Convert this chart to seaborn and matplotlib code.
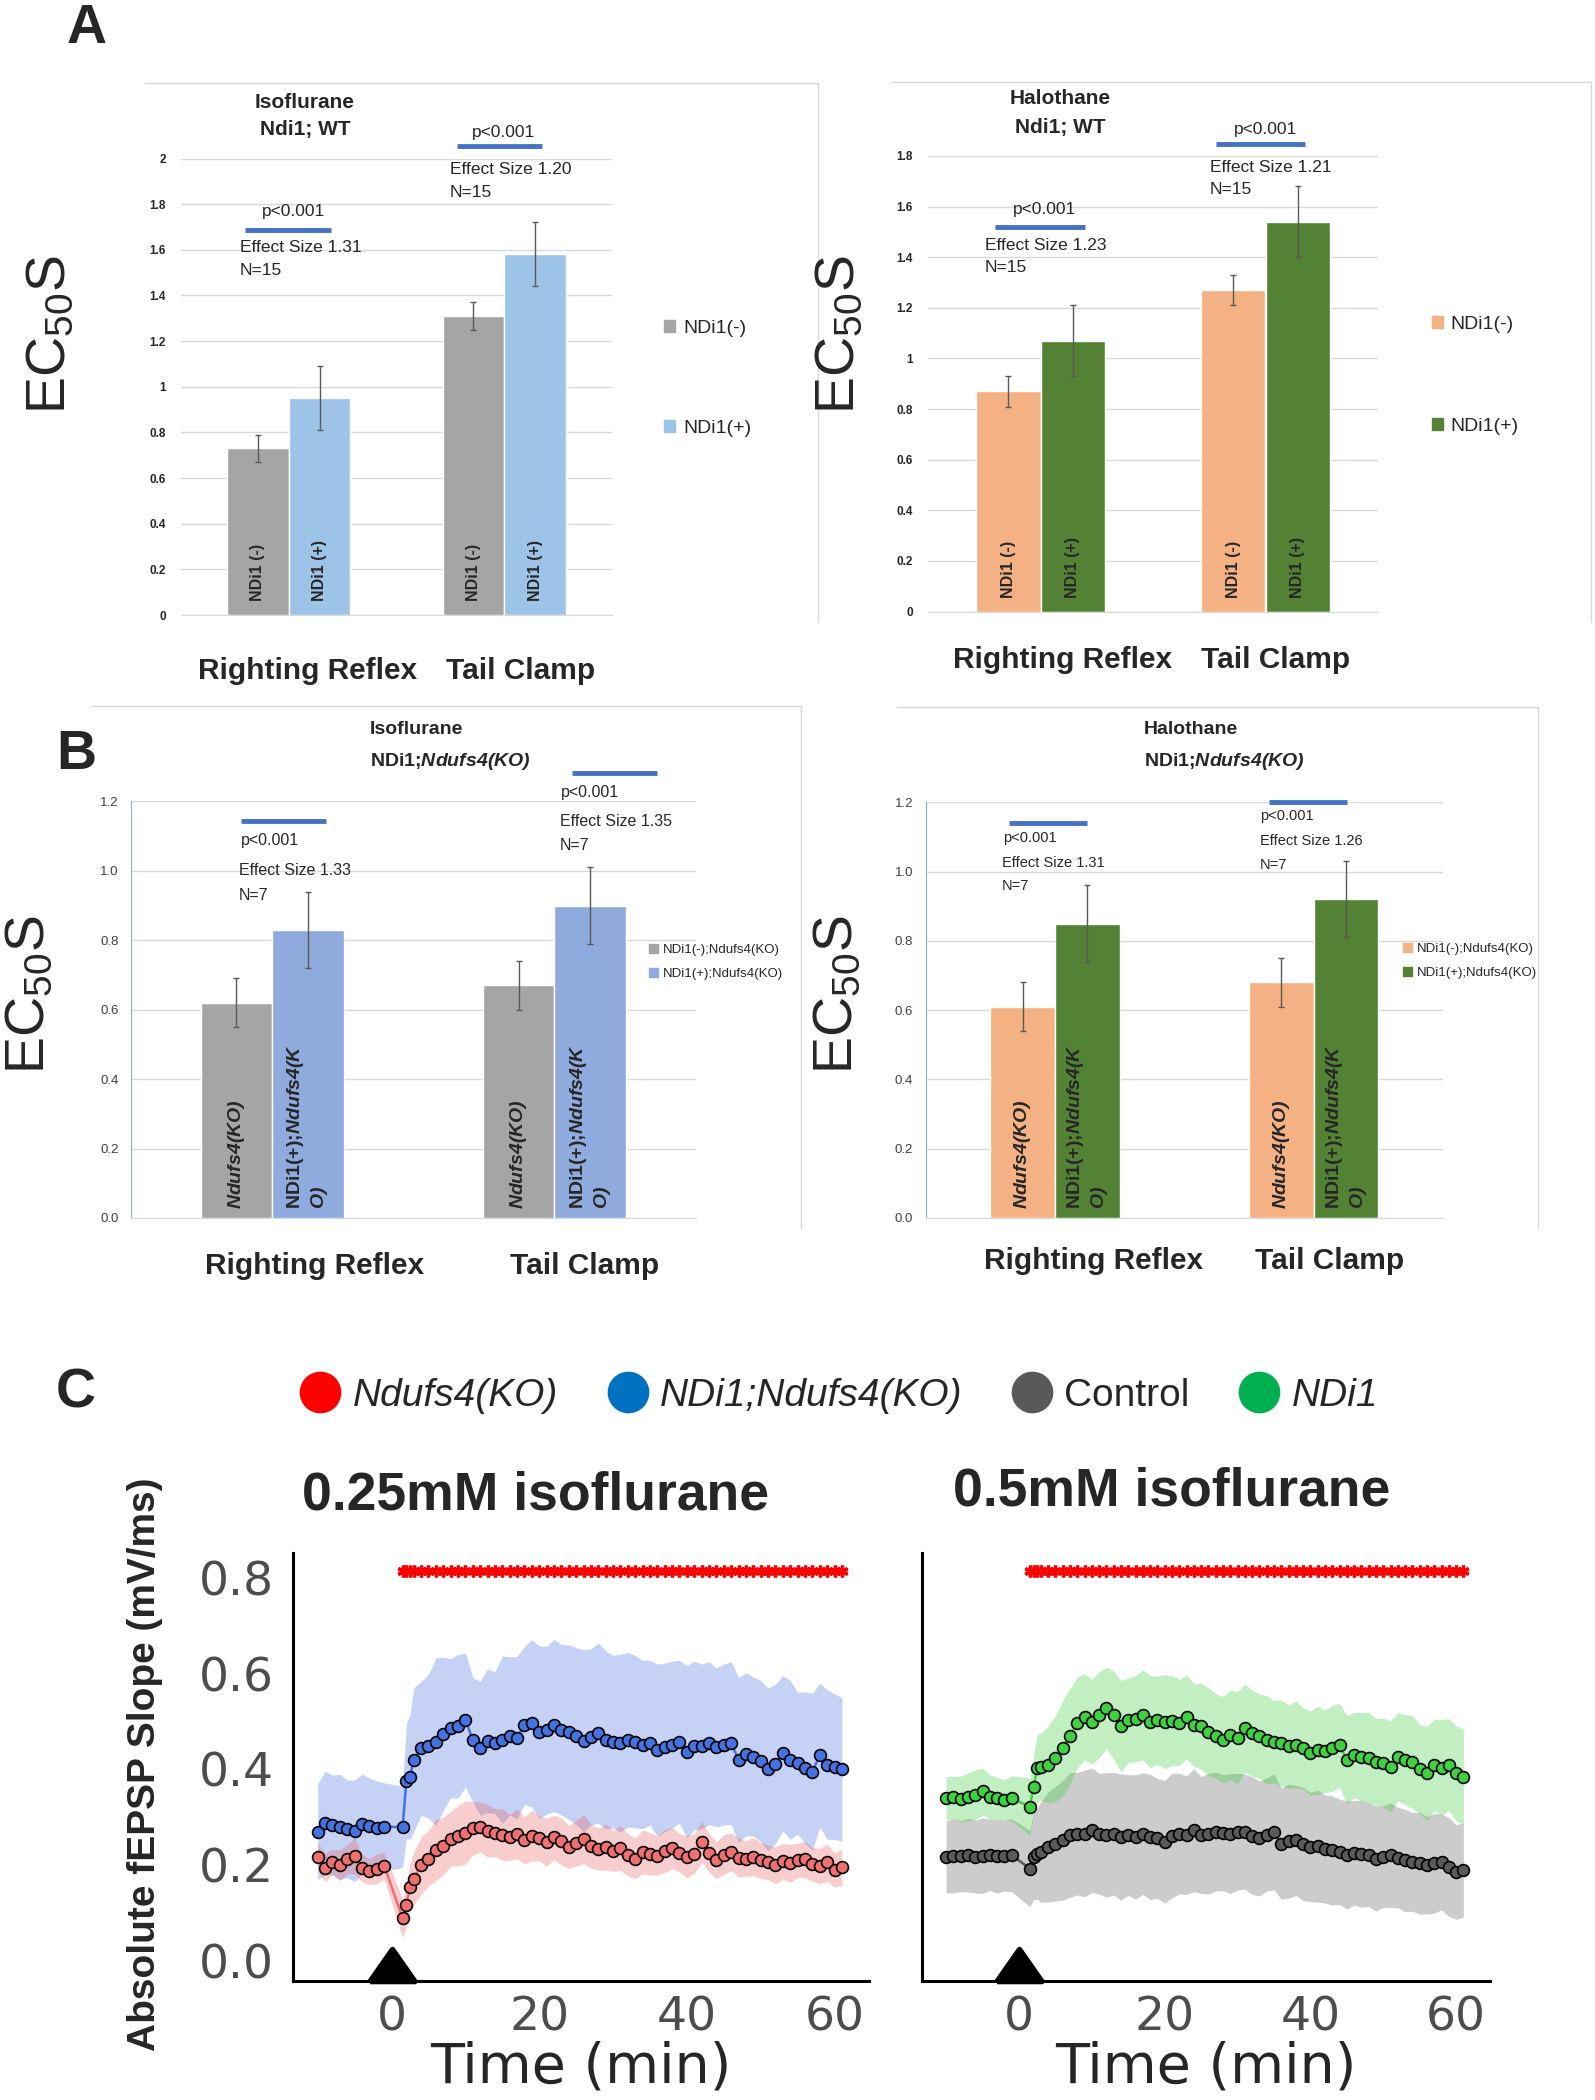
import numpy as np
import pandas as pd
import seaborn as sns
import matplotlib.pyplot as plt
from matplotlib.patches import Patch
from matplotlib.lines import Line2D
from matplotlib.markers import MarkerStyle

# ---- EC50 bar data ----
tests = ['Righting Reflex', 'Tail Clamp']

iso_wt_neg = [0.73, 1.31]
iso_wt_pos = [0.95, 1.58]
iso_wt_neg_err = [0.06, 0.06]
iso_wt_pos_err = [0.14, 0.14]

hal_wt_neg = [0.87, 1.27]
hal_wt_pos = [1.07, 1.54]
hal_wt_neg_err = [0.06, 0.06]
hal_wt_pos_err = [0.14, 0.14]

iso_ko_neg = [0.62, 0.67]
iso_ko_pos = [0.83, 0.90]
iso_ko_neg_err = [0.07, 0.07]
iso_ko_pos_err = [0.11, 0.11]

hal_ko_neg = [0.61, 0.68]
hal_ko_pos = [0.85, 0.92]
hal_ko_neg_err = [0.07, 0.07]
hal_ko_pos_err = [0.11, 0.11]

# ---- fEPSP slope time course ----
time_min = [-10, -9, -8, -7, -6, -5, -4, -3, -2, -1, 1.5, 2, 2.5] + list(range(3, 62))

ko_mean = [0.218, 0.195, 0.207, 0.200, 0.212, 0.220, 0.194, 0.187, 0.192, 0.199,
           0.089, 0.116, 0.155,
           0.172, 0.200, 0.214, 0.232, 0.240, 0.255, 0.262, 0.268, 0.277, 0.280,
           0.272, 0.268, 0.264, 0.258, 0.266, 0.252, 0.262, 0.256, 0.248, 0.258,
           0.250, 0.238, 0.246, 0.254, 0.240, 0.234, 0.238, 0.230, 0.236, 0.222,
           0.214, 0.228, 0.224, 0.220, 0.230, 0.236, 0.226, 0.218, 0.224, 0.249,
           0.226, 0.210, 0.222, 0.228, 0.216, 0.214, 0.218, 0.210, 0.206, 0.200,
           0.208, 0.204, 0.210, 0.212, 0.202, 0.198, 0.206, 0.190, 0.196]
ko_sem = [0.028, 0.030, 0.026, 0.032, 0.030, 0.038, 0.029, 0.027, 0.031, 0.028,
          0.040, 0.045, 0.050,
          0.055, 0.060, 0.058, 0.064, 0.060, 0.057, 0.063, 0.066, 0.056, 0.052,
          0.055, 0.050, 0.054, 0.048, 0.052, 0.049, 0.053, 0.047, 0.050, 0.046,
          0.049, 0.045, 0.048, 0.051, 0.046, 0.044, 0.048, 0.043, 0.047, 0.044,
          0.042, 0.046, 0.044, 0.041, 0.045, 0.043, 0.040, 0.044, 0.041, 0.043,
          0.040, 0.038, 0.042, 0.039, 0.041, 0.037, 0.040, 0.038, 0.036, 0.039,
          0.037, 0.040, 0.036, 0.038, 0.035, 0.037, 0.039, 0.036, 0.038]

ndi_ko_mean = [0.270, 0.288, 0.284, 0.280, 0.276, 0.272, 0.286, 0.282, 0.278, 0.280,
               0.280, 0.376, 0.384,
               0.420, 0.444, 0.448, 0.458, 0.474, 0.486, 0.490, 0.503, 0.462, 0.444,
               0.460, 0.456, 0.462, 0.470, 0.466, 0.492, 0.496, 0.478, 0.482, 0.492,
               0.483, 0.478, 0.470, 0.460, 0.468, 0.476, 0.462, 0.458, 0.455, 0.462,
               0.458, 0.452, 0.456, 0.440, 0.446, 0.452, 0.458, 0.437, 0.450, 0.448,
               0.455, 0.446, 0.452, 0.455, 0.420, 0.432, 0.427, 0.418, 0.400, 0.412,
               0.434, 0.420, 0.413, 0.404, 0.395, 0.430, 0.410, 0.406, 0.400]
ndi_ko_sem = [0.100, 0.108, 0.104, 0.110, 0.102, 0.106, 0.104, 0.100, 0.098, 0.092,
              0.085, 0.120, 0.130,
              0.150, 0.140, 0.150, 0.175, 0.160, 0.145, 0.150, 0.140, 0.130, 0.140,
              0.150, 0.148, 0.175, 0.165, 0.170, 0.165, 0.175, 0.180, 0.175, 0.180,
              0.178, 0.182, 0.185, 0.190, 0.184, 0.188, 0.186, 0.180, 0.186, 0.182,
              0.180, 0.176, 0.172, 0.180, 0.176, 0.174, 0.170, 0.180, 0.176, 0.172,
              0.170, 0.166, 0.168, 0.170, 0.172, 0.170, 0.166, 0.168, 0.170, 0.166,
              0.162, 0.166, 0.148, 0.158, 0.164, 0.150, 0.156, 0.152, 0.150]

ndi_mean = [0.340, 0.342, 0.338, 0.343, 0.347, 0.354, 0.343, 0.340, 0.336, 0.340,
            0.322, 0.364, 0.402,
            0.406, 0.410, 0.423, 0.444, 0.469, 0.498, 0.510, 0.500, 0.514, 0.528,
            0.514, 0.490, 0.503, 0.506, 0.514, 0.500, 0.503, 0.500, 0.502, 0.498,
            0.510, 0.493, 0.490, 0.479, 0.470, 0.462, 0.472, 0.466, 0.486, 0.476,
            0.469, 0.462, 0.458, 0.455, 0.448, 0.452, 0.444, 0.434, 0.440, 0.438,
            0.444, 0.451, 0.420, 0.430, 0.427, 0.424, 0.416, 0.414, 0.406, 0.427,
            0.420, 0.416, 0.400, 0.392, 0.410, 0.404, 0.410, 0.392, 0.385]
ndi_sem = [0.045, 0.044, 0.048, 0.050, 0.052, 0.049, 0.046, 0.044, 0.042, 0.047,
           0.060, 0.065, 0.070,
           0.070, 0.080, 0.090, 0.100, 0.100, 0.095, 0.090, 0.088, 0.090, 0.085,
           0.092, 0.095, 0.088, 0.090, 0.094, 0.096, 0.092, 0.098, 0.094, 0.090,
           0.088, 0.086, 0.090, 0.092, 0.088, 0.090, 0.094, 0.096, 0.092, 0.090,
           0.088, 0.092, 0.086, 0.090, 0.087, 0.091, 0.085, 0.088, 0.092, 0.086,
           0.090, 0.087, 0.093, 0.089, 0.092, 0.095, 0.090, 0.093, 0.096, 0.092,
           0.094, 0.097, 0.093, 0.098, 0.095, 0.100, 0.096, 0.099, 0.100]

ctrl_mean = [0.218, 0.220, 0.219, 0.221, 0.218, 0.220, 0.222, 0.219, 0.220, 0.221,
             0.193, 0.218, 0.224,
             0.228, 0.238, 0.245, 0.252, 0.263, 0.266, 0.266, 0.273, 0.266, 0.263,
             0.266, 0.259, 0.263, 0.259, 0.266, 0.259, 0.256, 0.249, 0.262, 0.266,
             0.263, 0.273, 0.263, 0.266, 0.270, 0.268, 0.266, 0.270, 0.270, 0.262,
             0.256, 0.264, 0.270, 0.245, 0.250, 0.252, 0.244, 0.238, 0.240, 0.234,
             0.231, 0.228, 0.221, 0.226, 0.224, 0.222, 0.214, 0.218, 0.221, 0.216,
             0.210, 0.207, 0.204, 0.200, 0.204, 0.207, 0.196, 0.186, 0.190]
ctrl_sem = [0.075, 0.078, 0.074, 0.077, 0.076, 0.079, 0.075, 0.077, 0.074, 0.076,
            0.080, 0.090, 0.095,
            0.105, 0.115, 0.120, 0.125, 0.130, 0.128, 0.132, 0.130, 0.126, 0.130,
            0.128, 0.132, 0.126, 0.130, 0.127, 0.131, 0.125, 0.128, 0.130, 0.126,
            0.124, 0.128, 0.122, 0.126, 0.124, 0.121, 0.125, 0.122, 0.120, 0.123,
            0.120, 0.118, 0.121, 0.116, 0.119, 0.115, 0.118, 0.114, 0.117, 0.113,
            0.114, 0.110, 0.113, 0.109, 0.112, 0.108, 0.110, 0.106, 0.109, 0.105,
            0.107, 0.103, 0.106, 0.102, 0.104, 0.100, 0.103, 0.099, 0.098]

# time points flagged significant (red asterisks)
sig_times = [t for t in time_min if t > 0]

sns.set_style('white')
plt.rcParams['font.family'] = ['Liberation Sans', 'DejaVu Sans']
plt.rcParams['mathtext.fontset'] = 'custom'
plt.rcParams['mathtext.rm'] = 'Liberation Sans:bold:italic'
plt.rcParams['mathtext.it'] = 'Liberation Sans:bold:italic'
plt.rcParams['mathtext.sf'] = 'Liberation Sans'

W, H = 1595, 2100
fig = plt.figure(figsize=(W / 100, H / 100), dpi=100)


def px_axes(left, top, right, bottom):
    return fig.add_axes([left / W, 1 - bottom / H, (right - left) / W, (bottom - top) / H])


def px_text(x, y, s, **kw):
    return fig.text(x / W, 1 - y / H, s, **kw)


def px_line(x0, y0, x1, y1):
    fig.add_artist(Line2D([x0 / W, x1 / W], [1 - y0 / H, 1 - y1 / H],
                          transform=fig.transFigure, color='#d9d9d9', lw=1))


def bar_panel(ax, neg, pos, neg_err, pos_err, colors, width, labels, inner, inner_y, inner_fs):
    df = pd.DataFrame({'test': tests + tests,
                       'ec50': neg + pos,
                       'group': [labels[0]] * 2 + [labels[1]] * 2})
    sns.barplot(data=df, x='test', y='ec50', hue='group', hue_order=labels, palette=colors,
                width=width, saturation=1, errorbar=None, legend=False, ax=ax, zorder=2)
    errs = [neg_err, pos_err]
    for p in ax.patches:
        xc = p.get_x() + p.get_width() / 2
        cat = int(round(xc))
        h = 0 if xc < cat else 1
        ax.errorbar(xc, p.get_height(), yerr=errs[h][cat], fmt='none', ecolor='#595959',
                    elinewidth=1, capsize=2.5, capthick=1, zorder=3)
        ax.text(xc, inner_y, inner[h], rotation=90, ha='center', va='bottom',
                multialignment='left', fontsize=inner_fs, fontweight='bold', zorder=4)
    ax.set_xlim(-0.5, 1.5)
    ax.set(xlabel='', ylabel='')
    ax.set_axisbelow(True)
    ax.yaxis.grid(True, color='#d9d9d9', lw=1)
    ax.xaxis.grid(False)
    ax.tick_params(axis='x', which='major', length=0, labelbottom=False)
    for s in ['top', 'right']:
        ax.spines[s].set_visible(False)
    ax.spines['bottom'].set_color('#d9d9d9')


def bar_legend(ax, colors, labels, x, y, fs, size, spacing, pad):
    ax.legend(handles=[Patch(color=c) for c in colors], labels=labels, loc='center left',
              bbox_to_anchor=(x / W, 1 - y / H), bbox_transform=fig.transFigure,
              frameon=False, fontsize=fs, handlelength=size, handleheight=size,
              labelspacing=spacing, handletextpad=pad, borderpad=0, borderaxespad=0)


def stats_note(ax, line, p_xy, eff_xy, n_xy, eff, n, fs, p_ha):
    ax.plot(line[:2], [line[2], line[2]], color='#4472c4', lw=3.5,
            solid_capstyle='butt', clip_on=False, zorder=5)
    ax.text(p_xy[0], p_xy[1], 'p<0.001', ha=p_ha, va='center', fontsize=fs)
    ax.text(eff_xy[0], eff_xy[1], eff, ha='left', va='center', fontsize=fs)
    ax.text(n_xy[0], n_xy[1], n, ha='left', va='center', fontsize=fs)


def style_a(ax, ymax):
    ax.spines['left'].set_visible(False)
    ax.set_ylim(0, ymax)
    ax.set_yticks(np.arange(0, ymax + 0.01, 0.2))
    ax.yaxis.set_major_formatter(lambda v, _: f'{v:g}')
    ax.tick_params(axis='y', length=0, pad=11, labelsize=8.5, labelcolor='#262626')
    for t in ax.get_yticklabels():
        t.set_fontweight('bold')
    ax.set_xticks([-0.5, 0.5, 1.5], minor=True)
    ax.tick_params(axis='x', which='minor', length=5, color='#d9d9d9', width=1)


def style_b(ax):
    ax.spines['left'].set_color('#8faadc')
    ax.set_ylim(0, 1.2)
    ax.set_yticks(np.arange(0, 1.21, 0.2))
    ax.yaxis.set_major_formatter(lambda v, _: f'{v:.1f}')
    ax.tick_params(axis='y', length=3, color='#8faadc', pad=6, labelsize=9.5, labelcolor='#404040')


ec50 = r'EC$_{\mathsf{50}}$S'

# ---------------- Panel A ----------------
px_text(87, 29, 'A', fontsize=40, fontweight='bold', ha='center', va='center')
px_line(145, 83, 818, 83)
px_line(818, 83, 818, 622)
px_line(891, 82, 1591, 82)
px_line(1591, 82, 1591, 622)

ax = px_axes(181, 158.5, 612, 615)
cols = ['#a5a5a5', '#9dc3e6']
labs = ['NDi1(-)', 'NDi1(+)']
bar_panel(ax, iso_wt_neg, iso_wt_pos, iso_wt_neg_err, iso_wt_pos_err, cols, 0.572,
          labs, ['NDi1 (-)', 'NDi1 (+)'], 0.06, 11.5)
stats_note(ax, (-0.203, 0.196, 1.687), (0.02, 1.766), (-0.226, 1.608), (-0.226, 1.511),
           'Effect Size 1.31', 'N=15', 12.5, 'center')
stats_note(ax, (0.781, 1.175, 2.055), (0.999, 2.112), (0.748, 1.95), (0.748, 1.849),
           'Effect Size 1.20', 'N=15', 12.5, 'center')
style_a(ax, 2)
bar_legend(ax, cols, labs, 663.5, 378.5, 14, 0.57, 4.28, 0.44)
px_text(305, 102, 'Isoflurane', fontsize=15, fontweight='bold', ha='center', va='center')
px_text(305, 130, 'Ndi1; WT', fontsize=15, fontweight='bold', ha='center', va='center')
px_text(308, 671, tests[0], fontsize=21.5, fontweight='bold', ha='center', va='center')
px_text(521, 671, tests[1], fontsize=21.5, fontweight='bold', ha='center', va='center')
px_text(51, 335, ec50, fontsize=40, rotation=90, ha='center', va='center')

ax = px_axes(928, 156, 1378, 611.6)
cols = ['#f4b183', '#548235']
bar_panel(ax, hal_wt_neg, hal_wt_pos, hal_wt_neg_err, hal_wt_pos_err, cols, 0.572,
          labs, ['NDi1 (-)', 'NDi1 (+)'], 0.055, 11.5)
stats_note(ax, (-0.202, 0.198, 1.52), (0.02, 1.587), (-0.247, 1.446), (-0.247, 1.358),
           'Effect Size 1.23', 'N=15', 12.5, 'center')
stats_note(ax, (0.78, 1.176, 1.847), (0.998, 1.903), (0.753, 1.755), (0.753, 1.666),
           'Effect Size 1.21', 'N=15', 12.5, 'center')
style_a(ax, 1.8)
bar_legend(ax, cols, labs, 1431.5, 375.3, 14, 0.57, 4.35, 0.4)
px_text(1060, 99, 'Halothane', fontsize=15, fontweight='bold', ha='center', va='center')
px_text(1060, 128, 'Ndi1; WT', fontsize=15, fontweight='bold', ha='center', va='center')
px_text(1063, 660, tests[0], fontsize=21.5, fontweight='bold', ha='center', va='center')
px_text(1276, 660, tests[1], fontsize=21.5, fontweight='bold', ha='center', va='center')
px_text(840, 335, ec50, fontsize=40, rotation=90, ha='center', va='center')

# ---------------- Panel B ----------------
px_text(76, 755, 'B', fontsize=40, fontweight='bold', ha='center', va='center')
px_line(91, 706, 801, 706)
px_line(801, 706, 801, 1228)
px_line(897, 706.6, 1538, 706.6)
px_line(1538, 706.6, 1538, 1228)

ko_inner = [r'$\mathit{Ndufs4(KO)}$', 'NDi1(+);$\\mathit{Ndufs4(K}$\n$\\mathit{O)}$']
labs = ['NDi1(-);Ndufs4(KO)', 'NDi1(+);Ndufs4(KO)']

ax = px_axes(131, 801.5, 695.6, 1217.9)
cols = ['#a5a5a5', '#8faadc']
bar_panel(ax, iso_ko_neg, iso_ko_pos, iso_ko_neg_err, iso_ko_pos_err, cols, 0.506,
          labs, ko_inner, 0.025, 14)
stats_note(ax, (-0.110, 0.191, 1.145), (-0.110, 1.089), (-0.117, 1.0), (-0.117, 0.929),
           'Effect Size 1.33', 'N=7', 11.5, 'left')
stats_note(ax, (1.062, 1.363, 1.282), (1.022, 1.225), (1.018, 1.142), (1.018, 1.072),
           'Effect Size 1.35', 'N=7', 11.5, 'left')
style_b(ax)
bar_legend(ax, cols, labs, 649, 961.75, 9.5, 0.68, 0.9, 0.35)
px_text(370, 729.5, 'Isoflurane', fontsize=14, fontweight='bold', ha='left', va='center')
px_text(370, 761, r'NDi1;$\mathit{Ndufs4(KO)}$', fontsize=14, fontweight='bold',
        ha='left', va='center')
px_text(315, 1265.5, tests[0], fontsize=21.5, fontweight='bold', ha='center', va='center')
px_text(585, 1265.5, tests[1], fontsize=21.5, fontweight='bold', ha='center', va='center')
px_text(30, 994.5, ec50, fontsize=40, rotation=90, ha='center', va='center')

ax = px_axes(925.7, 802.3, 1443, 1217.9)
cols = ['#f4b183', '#548235']
bar_panel(ax, hal_ko_neg, hal_ko_pos, hal_ko_neg_err, hal_ko_pos_err, cols, 0.5,
          labs, ko_inner, 0.025, 14)
stats_note(ax, (-0.178, 0.122, 1.140), (-0.202, 1.098), (-0.206, 1.025), (-0.206, 0.957),
           'Effect Size 1.31', 'N=7', 10.5, 'left')
stats_note(ax, (0.828, 1.128, 1.202), (0.793, 1.159), (0.793, 1.087), (0.793, 1.018),
           'Effect Size 1.26', 'N=7', 10.5, 'left')
style_b(ax)
bar_legend(ax, cols, labs, 1403, 961.25, 9.5, 0.68, 0.9, 0.35)
px_text(1143.7, 729.5, 'Halothane', fontsize=14, fontweight='bold', ha='left', va='center')
px_text(1143.7, 761, r'NDi1;$\mathit{Ndufs4(KO)}$', fontsize=14, fontweight='bold',
        ha='left', va='center')
px_text(1094, 1261, tests[0], fontsize=21.5, fontweight='bold', ha='center', va='center')
px_text(1330, 1261, tests[1], fontsize=21.5, fontweight='bold', ha='center', va='center')
px_text(838, 994.5, ec50, fontsize=40, rotation=90, ha='center', va='center')

# ---------------- Panel C ----------------
px_text(75.5, 1394, 'C', fontsize=40, fontweight='bold', ha='center', va='center')

YLO, YHI = -0.0407, 0.852
stim = MarkerStyle([(-1.4, 0), (1.4, 0), (0, 2), (-1.4, 0)], joinstyle='round')


def trace_panel(ax, series):
    frames = []
    for name, mean, sem, band, band_alpha, _ in series:
        lo = np.array(mean) - np.array(sem)
        hi = np.array(mean) + np.array(sem)
        ax.fill_between(time_min, lo, hi, color=band, alpha=band_alpha, lw=0, zorder=1)
        frames.append(pd.DataFrame({'time': time_min, 'slope': mean, 'group': name}))
    df = pd.concat(frames)
    sns.lineplot(data=df, x='time', y='slope', hue='group',
                 hue_order=[s[0] for s in series], palette=[s[5] for s in series],
                 marker='o', markersize=8.5, markeredgecolor='black', markeredgewidth=1.2,
                 linewidth=1.8, errorbar=None, legend=False, ax=ax, zorder=3)
    ax.plot(sig_times, [0.815] * len(sig_times), ls='none', marker=(6, 2, 0), ms=8.5,
            mew=2.4, color='#ff0000', zorder=4, clip_on=False)
    ax.plot([0], [YLO], ls='none', marker=stim, ms=46, color='black', mew=4,
            clip_on=False, zorder=6)
    ax.set_xlim(-13.35, 64.6)
    ax.set_ylim(YLO, YHI)
    ax.set_xticks([0, 20, 40, 60])
    ax.set_yticks([0, 0.2, 0.4, 0.6, 0.8])
    ax.yaxis.set_major_formatter(lambda v, _: f'{v:.1f}')
    for s in ['top', 'right']:
        ax.spines[s].set_visible(False)
    for s in ['left', 'bottom']:
        ax.spines[s].set_color('black')
        ax.spines[s].set_linewidth(2.2)
    ax.tick_params(axis='both', direction='out', length=7, width=2, color='black',
                   labelcolor='#4d4d4d', labelsize=34, labelfontfamily='DejaVu Sans')
    ax.tick_params(axis='y', pad=7)
    ax.tick_params(axis='x', pad=4)
    ax.set_ylabel('')
    ax.set_xlabel('Time (min)', fontsize=40, family='DejaVu Sans', labelpad=0)
    ax.grid(False)


axL = px_axes(293, 1553, 868.5, 1980.5)
trace_panel(axL, [('NDi1;Ndufs4(KO)', ndi_ko_mean, ndi_ko_sem, '#4169e1', 0.3, '#4472e0'),
                  ('Ndufs4(KO)', ko_mean, ko_sem, '#e85a5a', 0.3, '#f07070')])
axR = px_axes(921.7, 1553, 1489.6, 1980.5)
trace_panel(axR, [('Control', ctrl_mean, ctrl_sem, '#808080', 0.4, '#5a5a5a'),
                  ('NDi1', ndi_mean, ndi_sem, '#33cc33', 0.3, '#3fd13f')])
axR.tick_params(axis='y', labelleft=False)

px_text(535.6, 1496, '0.25mM isoflurane', fontsize=38.5, fontweight='bold', ha='center', va='center')
px_text(1171.6, 1491, '0.5mM isoflurane', fontsize=38.5, fontweight='bold', ha='center', va='center')
px_text(145, 1764, 'Absolute fEPSP Slope (mV/ms)', fontsize=28, fontweight='bold',
        rotation=90, ha='center', va='center')

leg_cols = ['#ff0000', '#0070c0', '#595959', '#00b050']
leg_labs = ['Ndufs4(KO)', 'NDi1;Ndufs4(KO)', 'Control', 'NDi1']
handles = [Line2D([0], [0], marker='o', ls='none', ms=29, mfc=c, mec=c) for c in leg_cols]
leg = fig.legend(handles, leg_labs, loc='center left', bbox_to_anchor=(301 / W, 1 - 1396 / H),
                 ncol=4, frameon=False, fontsize=28, handlelength=1.0, handletextpad=0.32,
                 columnspacing=1.3, borderpad=0, borderaxespad=0)
for i in [0, 1, 3]:
    leg.get_texts()[i].set_fontstyle('italic')

fig.savefig('out.png', dpi=100)
